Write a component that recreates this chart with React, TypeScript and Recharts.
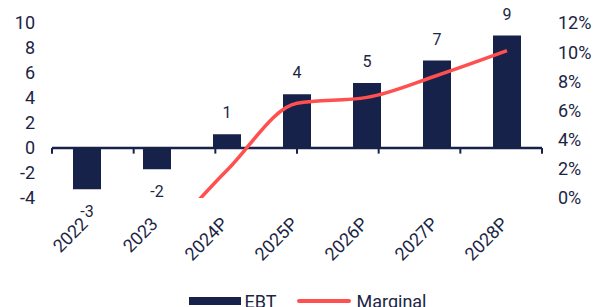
import React from "react";
import {
  ComposedChart,
  Bar,
  Line,
  XAxis,
  YAxis,
  ReferenceLine,
  LabelList,
  Legend,
} from "recharts";

const years = ["2022", "2023", "2024P", "2025P", "2026P", "2027P", "2028P"];
const ebt = [-3.3, -1.7, 1.1, 4.3, 5.2, 7.0, 9.0];
const marginal = [-6, -3, 1.9, 6.5, 6.9, 8.4, 10.1];
const leftTicks = [-4, -2, 0, 2, 4, 6, 8, 10];
const rightTicks = [0, 2, 4, 6, 8, 10, 12];

const NAVY = "#17224a";
const TEXT = "#1c2544";
const RED = "#ff4f4f";

const data = years.map((year, i) => ({ year, ebt: ebt[i], marginal: marginal[i] }));
// category boundaries, for the little ticks hanging off the zero line
const boundaries = years.map((_, i) => i).concat(years.length);

function YearTick({ x, y, payload }: any) {
  const tx = x + 2;
  const ty = y + 27;
  return (
    <text
      x={tx}
      y={ty}
      transform={`rotate(-45 ${tx} ${ty})`}
      textAnchor="end"
      fill={TEXT}
      fontSize={18}
    >
      {payload.value}
    </text>
  );
}

function LegendContent() {
  return (
    <div
      style={{
        display: "flex",
        justifyContent: "center",
        alignItems: "center",
        height: 24,
        paddingLeft: 13,
        fontSize: 18,
        color: TEXT,
      }}
    >
      <span style={{ width: 52, height: 8, background: NAVY, marginRight: 4 }} />
      <span>EBT</span>
      <span
        style={{ width: 54, height: 4, background: RED, borderRadius: 2, marginLeft: 21, marginRight: 5 }}
      />
      <span>Marginal</span>
    </div>
  );
}

export default function App() {
  return (
    <div
      style={{
        position: "absolute",
        left: 0,
        top: 0,
        width: 602,
        height: 307,
        overflow: "hidden",
        fontFamily: "Roboto, sans-serif",
        background: "#fff",
      }}
    >
      <ComposedChart width={602} height={313} data={data} margin={{ top: 23, right: 0, bottom: 0, left: 0 }}>
        <XAxis
          dataKey="year"
          axisLine={false}
          tickLine={false}
          tickSize={0}
          tickMargin={0}
          interval={0}
          height={91}
          tick={<YearTick />}
        />
        <XAxis xAxisId="grid" type="number" domain={[0, years.length]} allowDataOverflow hide />
        <YAxis
          yAxisId="left"
          width={52}
          domain={[-4, 10]}
          ticks={leftTicks}
          interval={0}
          axisLine={false}
          tickLine={false}
          tickSize={0}
          tickMargin={17}
          tick={{ fill: TEXT, fontSize: 18 }}
        />
        <YAxis
          yAxisId="right"
          orientation="right"
          width={60}
          domain={[0, 12]}
          ticks={rightTicks}
          interval={0}
          allowDataOverflow
          axisLine={false}
          tickLine={false}
          tickSize={0}
          tickMargin={16}
          tick={{ fill: TEXT, fontSize: 18 }}
          tickFormatter={(v) => `${v}%`}
        />
        <Bar yAxisId="left" dataKey="ebt" fill={NAVY} barSize={28} isAnimationActive={false}>
          <LabelList
            dataKey="ebt"
            position="top"
            offset={16}
            formatter={(v: any) => Math.round(Number(v))}
            fill={TEXT}
            fontSize={16}
          />
        </Bar>
        <ReferenceLine yAxisId="left" y={0} stroke={NAVY} strokeWidth={2.3} />
        {boundaries.map((b) => (
          <ReferenceLine
            key={b}
            xAxisId="grid"
            yAxisId="left"
            segment={[
              { x: b, y: 0 },
              { x: b, y: -0.45 },
            ]}
            stroke={NAVY}
            strokeWidth={2}
          />
        ))}
        <Line
          yAxisId="right"
          type="monotone"
          dataKey="marginal"
          stroke={RED}
          strokeWidth={3.5}
          dot={false}
          isAnimationActive={false}
        />
        <Legend verticalAlign="bottom" content={<LegendContent />} />
      </ComposedChart>
    </div>
  );
}
